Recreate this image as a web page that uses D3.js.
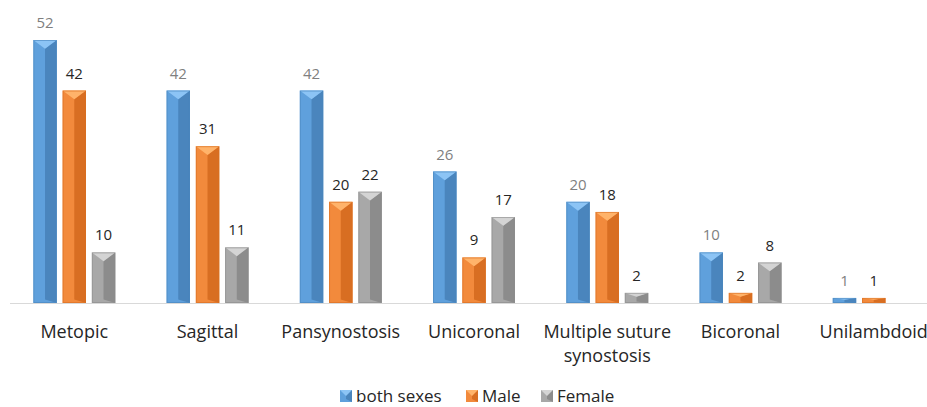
<!DOCTYPE html>
<html>
<head>
<meta charset="utf-8">
<script src="https://cdn.jsdelivr.net/npm/d3@7"></script>
<style>
  body { margin: 0; background: #fff; }
  text { font-family: "Open Sans", "Liberation Sans", sans-serif; }
</style>
</head>
<body>
<div id="container"></div>
<script>
var width = 927;
var height = 407;

var categories = ['Metopic', 'Sagittal', 'Pansynostosis', 'Unicoronal', 'Multiple suture synostosis', 'Bicoronal', 'Unilambdoid'];
var seriesNames = ['both sexes', 'Male', 'Female'];
var bothSexes = [52, 42, 42, 26, 20, 10, 1];
var male = [42, 31, 20, 9, 18, 2, 1];
var female = [10, 11, 22, 17, 2, 8, null];

var series = [bothSexes, male, female];
var colors = [
  {base: '#5fa0dc', light: '#8cc4f5', dark: '#4a85bd', label: '#7f7f7f'},
  {base: '#f28a3c', light: '#ffb36a', dark: '#d86e22', label: '#262626'},
  {base: '#a8a8a8', light: '#d4d4d4', dark: '#8c8c8c', label: '#262626'}
];

var baseY = 303;
var svg = d3.select('#container').append('svg').attr('width', width).attr('height', height);

var x0 = d3.scaleBand().domain(categories).range([8, 940]).paddingInner(0.385).paddingOuter(0.19);
var x1 = d3.scaleBand().domain(d3.range(3)).range([0, x0.bandwidth()]).paddingInner(0.2);
var y = d3.scaleLinear().domain([0, 52]).range([baseY, 40]);

// baseline
svg.append('line')
  .attr('x1', 10).attr('x2', width)
  .attr('y1', baseY + 0.5).attr('y2', baseY + 0.5)
  .attr('stroke', '#d9d9d9').attr('stroke-width', 1);

var rows = [];
categories.forEach(function(c, i){
  series.forEach(function(s, j){
    if (s[i] != null) rows.push({cat: c, s: j, v: s[i]});
  });
});

var bars = svg.append('g').selectAll('g')
  .data(rows)
  .enter().append('g')
  .attr('transform', function(d){ return 'translate(' + (x0(d.cat) + x1(d.s)) + ',0)'; });

var w = x1.bandwidth();

bars.append('rect')
  .attr('x', 0).attr('width', w)
  .attr('y', function(d){ return y(d.v); })
  .attr('height', function(d){ return baseY - y(d.v); })
  .attr('fill', function(d){ return colors[d.s].base; });

// darker right half
bars.append('path')
  .attr('d', function(d){
    var t = y(d.v), h = baseY - t, tri = Math.min(w * 0.5, h / 2) * 0.75;
    return 'M' + w / 2 + ',' + (t + tri) + 'L' + w + ',' + t + 'L' + w + ',' + baseY + 'L' + w / 2 + ',' + (baseY - tri * 0.4) + 'Z';
  })
  .attr('fill', function(d){ return colors[d.s].dark; });

// top bevel
bars.append('path')
  .attr('d', function(d){
    var t = y(d.v), h = baseY - t, tri = Math.min(w * 0.5, h / 2) * 0.75;
    return 'M0,' + t + 'L' + w + ',' + t + 'L' + w / 2 + ',' + (t + tri) + 'Z';
  })
  .attr('fill', function(d){ return colors[d.s].light; });

bars.append('rect')
  .attr('x', 0.5).attr('width', w - 1)
  .attr('y', function(d){ return y(d.v) + 0.5; })
  .attr('height', function(d){ return Math.max(0, baseY - y(d.v) - 1); })
  .attr('fill', 'none')
  .attr('stroke', function(d){ return colors[d.s].dark; })
  .attr('stroke-opacity', 0.6);

// value labels
bars.append('text')
  .attr('x', w / 2)
  .attr('y', function(d){ return y(d.v) - 12; })
  .attr('text-anchor', 'middle')
  .attr('font-size', '15px')
  .attr('fill', function(d){ return colors[d.s].label; })
  .text(function(d){ return d.v; });

// category labels
var catLabels = svg.append('g').selectAll('text')
  .data(categories)
  .enter().append('text')
  .attr('x', function(d){ return x0(d) + x0.bandwidth() / 2; })
  .attr('y', 338)
  .attr('text-anchor', 'middle')
  .attr('font-size', '18px')
  .attr('fill', '#262626');

catLabels.each(function(d){
  var t = d3.select(this);
  var parts = d === 'Multiple suture synostosis' ? ['Multiple suture', 'synostosis'] : [d];
  parts.forEach(function(p, k){
    t.append('tspan').attr('x', t.attr('x')).attr('dy', k === 0 ? 0 : 24).text(p);
  });
});

// legend
var legendX = [340, 466, 541];
var legend = svg.append('g').selectAll('g')
  .data(seriesNames)
  .enter().append('g')
  .attr('transform', function(d, i){ return 'translate(' + legendX[i] + ',390)'; });

legend.append('rect').attr('width', 12).attr('height', 12)
  .attr('fill', function(d, i){ return colors[i].base; });
legend.append('path').attr('d', 'M6,0L12,0L12,12L6,9Z')
  .attr('fill', function(d, i){ return colors[i].dark; });
legend.append('path').attr('d', 'M0,0L12,0L6,6Z')
  .attr('fill', function(d, i){ return colors[i].light; });

legend.append('text')
  .attr('x', 16).attr('y', 12)
  .attr('font-size', '17px')
  .attr('fill', '#262626')
  .text(function(d){ return d; });
</script>
</body>
</html>
